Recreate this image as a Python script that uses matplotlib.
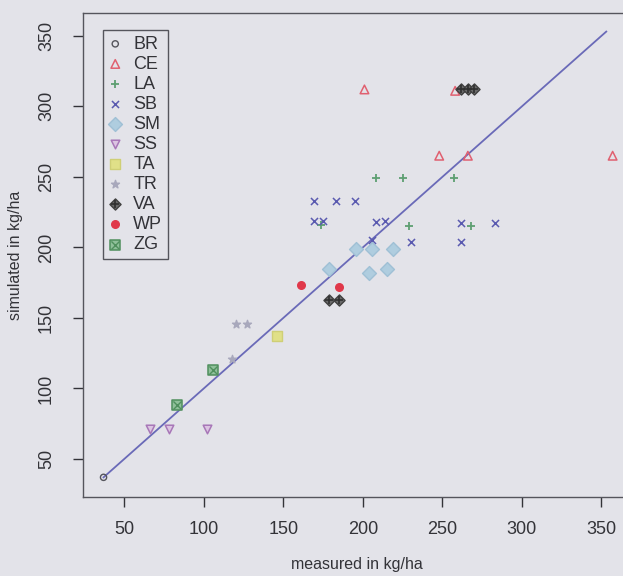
import matplotlib.pyplot as plt

plt.rcParams['font.family'] = ['Liberation Sans', 'DejaVu Sans']

# measured / simulated values per site (kg/ha)
br_x = [37]
br_y = [37]
ce_x = [201, 258, 248, 266, 357]
ce_y = [312, 311, 265, 265, 265]
la_x = [174, 208, 225, 257, 229, 268]
la_y = [216, 249, 249, 249, 215, 215]
sb_x = [169, 183, 195, 169, 175, 208, 214, 262, 283, 230, 262, 206]
sb_y = [233, 233, 233, 219, 219, 218, 219, 217, 217, 204, 204, 205]
sm_x = [196, 206, 219, 179, 204, 215]
sm_y = [199, 199, 199, 185, 182, 185]
ss_x = [66, 78, 102]
ss_y = [71, 71, 71]
ta_x = [146]
ta_y = [137]
tr_x = [120, 127, 118]
tr_y = [146, 146, 121]
va_x = [262, 266, 270, 179, 185]
va_y = [312, 312, 312, 163, 163]
wp_x = [161, 185]
wp_y = [173, 172]
zg_x = [83, 106]
zg_y = [88, 113]

line_x = [37, 353]

bg = '#e3e3e9'
fg = '#333338'

fig = plt.figure(figsize=(6.23, 5.76), dpi=100, facecolor=bg)
ax = fig.add_axes([0.133, 0.137, 0.881, 0.840], facecolor=bg)

ax.plot(line_x, line_x, color='#6a6ab8', lw=1.3, zorder=1)

handles = []
handles.append(ax.scatter(br_x, br_y, s=20, marker='o', facecolors='none', edgecolors='#55555c', linewidths=1.0))
handles.append(ax.scatter(ce_x, ce_y, s=38, marker='^', facecolors='none', edgecolors='#e06070', linewidths=1.1))
handles.append(ax.scatter(la_x, la_y, s=40, marker='+', color='#5e9f72', linewidths=1.3))
handles.append(ax.scatter(sb_x, sb_y, s=26, marker='x', color='#5a5ab0', linewidths=1.1))
handles.append(ax.scatter(sm_x, sm_y, s=50, marker='D', color='#afcddf', edgecolors='#9fc0d5', linewidths=1.0))
handles.append(ax.scatter(ss_x, ss_y, s=38, marker='v', facecolors='#dcc4e2', edgecolors='#a877b8', linewidths=1.1))
handles.append(ax.scatter(ta_x, ta_y, s=50, marker='s', color='#e0e088', edgecolors='#cfcf76'))
handles.append(ax.scatter(tr_x, tr_y, s=36, marker='*', color='#a8a8bc'))
va1 = ax.scatter(va_x, va_y, s=32, marker='D', facecolors='#6a6a6a', edgecolors='#404040', linewidths=1.0)
va2 = ax.scatter(va_x, va_y, s=40, marker='+', color='#303030', linewidths=1.2)
handles.append((va1, va2))
handles.append(ax.scatter(wp_x, wp_y, s=30, marker='o', color='#e0384a'))
zg1 = ax.scatter(zg_x, zg_y, s=50, marker='s', facecolors='#8fc09a', edgecolors='#4f8f5d', linewidths=1.1)
zg2 = ax.scatter(zg_x, zg_y, s=34, marker='x', color='#4f8f5d', linewidths=1.0)
handles.append((zg1, zg2))

labels = ['BR', 'CE', 'LA', 'SB', 'SM', 'SS', 'TA', 'TR', 'VA', 'WP', 'ZG']

ax.set_xlim(24, 369)
ax.set_ylim(23, 366)
ax.set_xticks([50, 100, 150, 200, 250, 300, 350])
ax.set_yticks([50, 100, 150, 200, 250, 300, 350])
ax.tick_params(direction='out', length=7, width=1, colors=fg, labelsize=13)
ax.tick_params(axis='x', pad=10)
ax.tick_params(axis='y', pad=13)
for lbl in ax.get_yticklabels():
    lbl.set_rotation(90)
    lbl.set_va('center')
for sp in ax.spines.values():
    sp.set_color('#55555c')
    sp.set_linewidth(1.0)

ax.set_xlabel('measured in kg/ha', fontsize=11.5, color=fg, labelpad=14)
ax.set_ylabel('simulated in kg/ha', fontsize=11.5, color=fg, labelpad=11)

leg = ax.legend(handles, labels, loc='upper left', bbox_to_anchor=(0.036, 0.965),
                fontsize=13, labelspacing=0.17, handlelength=0.8, handletextpad=0.6,
                borderpad=0.3, borderaxespad=0, frameon=True, fancybox=False, framealpha=1)
leg.get_frame().set_edgecolor('#55555c')
leg.get_frame().set_facecolor(bg)
leg.get_frame().set_linewidth(1.0)
for t in leg.get_texts():
    t.set_color(fg)

fig.savefig('out.png', dpi=100, facecolor=bg)
